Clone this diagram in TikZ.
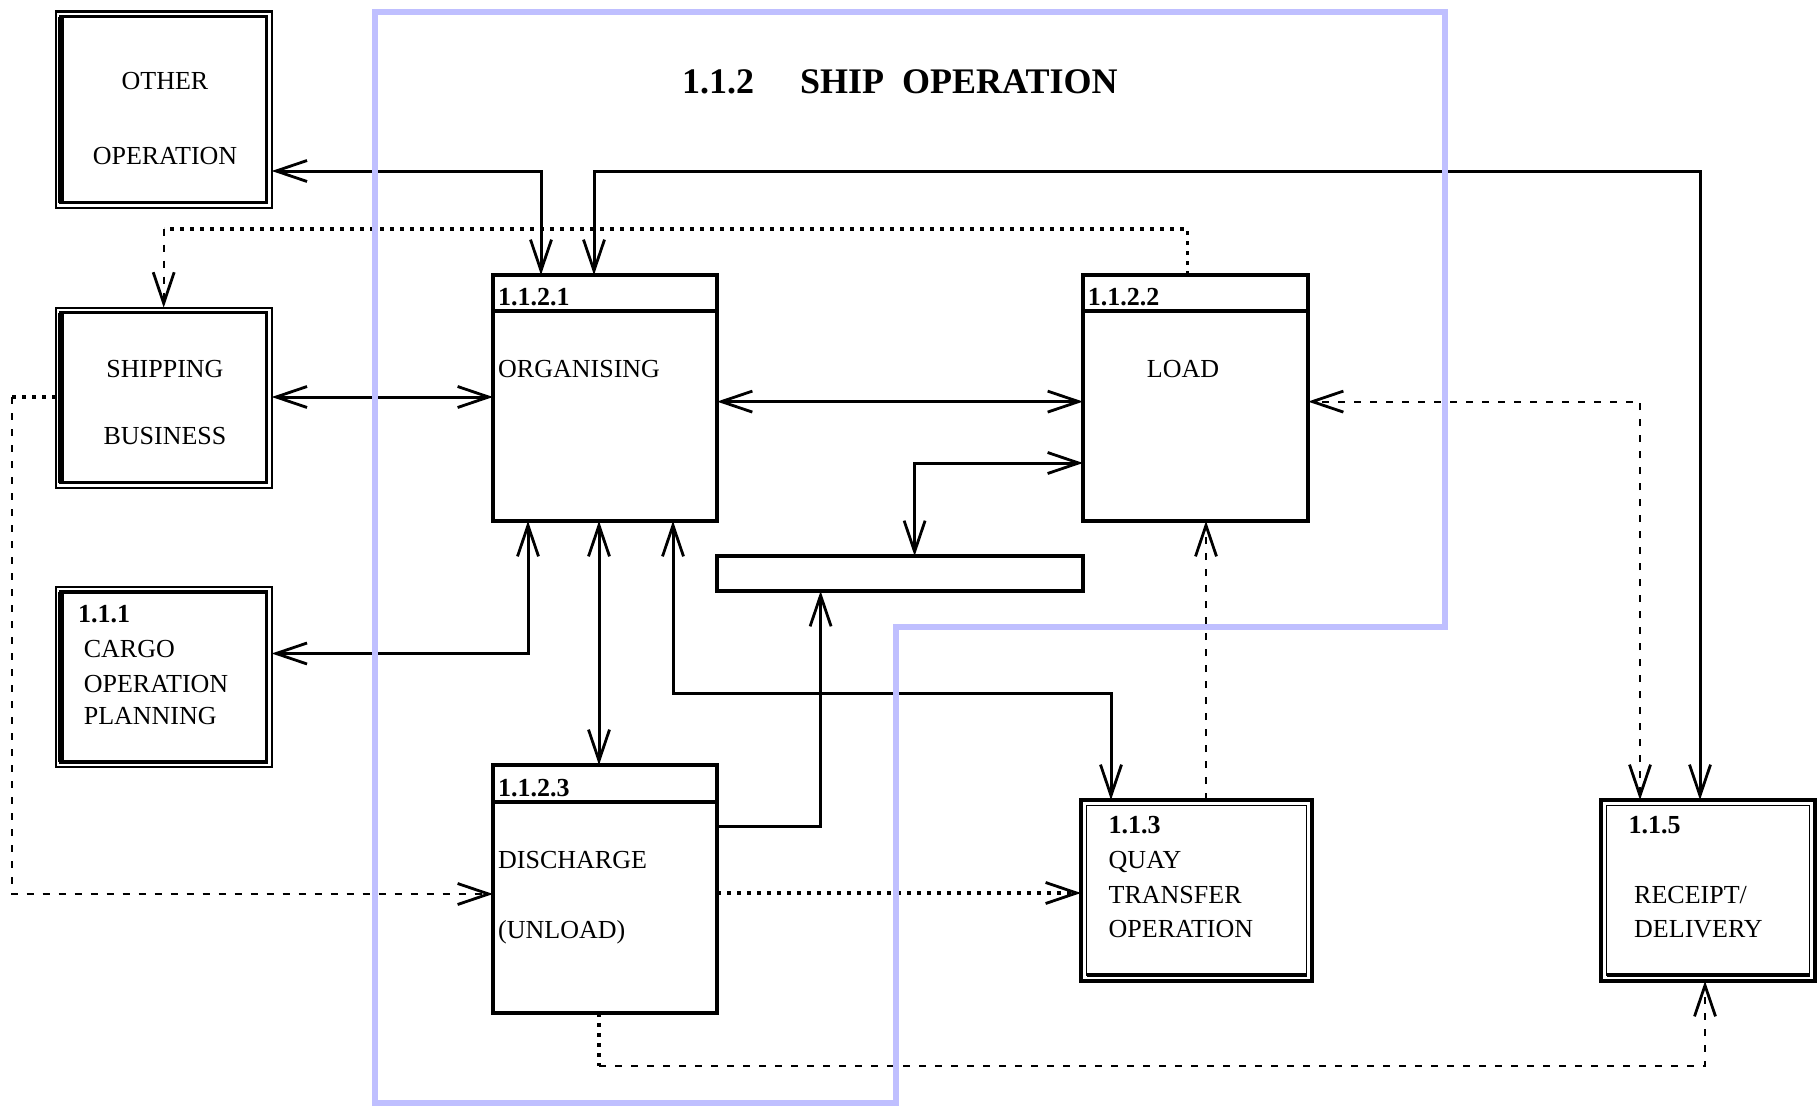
\documentclass[tikz,border=0pt]{standalone}
\usepackage{fontspec}
\setmainfont{Liberation Serif}
\usetikzlibrary{arrows.meta}
\definecolor{bluebd}{RGB}{191,191,255}
\newcommand\extboxL[1]{%
  \draw[line width=3.5pt] ([shift={(5,5)}]#1.north west) rectangle ([shift={(-5,-5)}]#1.south east);
  \draw[line width=6pt] ([shift={(5,5)}]#1.north west) -- ([shift={(5,-5)}]#1.south west);}
\newcommand\extboxR[1]{%
  \draw[line width=1.8pt] ([shift={(5.5,5.5)}]#1.north west) rectangle ([shift={(-5.5,-5.5)}]#1.south east);
  \draw[line width=4pt] ([shift={(5.5,-6)}]#1.south west) -- ([shift={(-5.5,-6)}]#1.south east);}
\begin{document}
\begin{tikzpicture}[x=1pt,y=-1pt,
  >={Straight Barb[length=31pt,width=21pt,line width=2.8pt]},
  proc/.style={draw, line width=4pt, rectangle, anchor=north west, inner sep=0pt, outer sep=0pt},
  extl/.style={draw, line width=2.2pt, rectangle, anchor=north west, inner sep=0pt, outer sep=0pt},
  extr/.style={draw, line width=4pt, rectangle, anchor=north west, inner sep=0pt, outer sep=0pt},
  store/.style={draw, line width=4.5pt, rectangle, anchor=north west, inner sep=0pt, outer sep=0pt},
  txt/.style={font=\fontsize{26}{30}\selectfont, inner sep=0pt, anchor=base west},
  txtc/.style={font=\fontsize{26}{30}\selectfont, inner sep=0pt, anchor=base},
  hdr/.style={font=\fontsize{26}{30}\selectfont\bfseries, inner sep=0pt, anchor=base west},
  conn/.style={line width=3pt},
  dsh/.style={line width=2pt, dash pattern=on 7pt off 9pt},
  dotl/.style={line width=3.8pt, dash pattern=on 4pt off 6pt},
  hline/.style={line width=3.2pt}
]
\useasboundingbox (0,0) rectangle (1820,1108);

% title
\node[font=\fontsize{36}{40}\selectfont\bfseries, inner sep=0pt, anchor=base west] (title) at (682,93) {1.1.2\hspace{46pt}SHIP\ \ OPERATION};

% external entities (left)
\node[extl, minimum width=216pt, minimum height=196pt] (oth) at (55.7,11.6) {};
\extboxL{oth}
\node[txtc] (othA) at (165,89.5) {OTHER};
\node[txtc] (othB) at (165,164) {OPERATION};

\node[extl, minimum width=216pt, minimum height=180pt] (shp) at (55.7,307.6) {};
\extboxL{shp}
\node[txtc] (shpA) at (165,377.5) {SHIPPING};
\node[txtc] (shpB) at (165,444.5) {BUSINESS};

\node[extl, minimum width=216pt, minimum height=180pt] (cop) at (55.7,587) {};
\extboxL{cop}
\node[hdr] (copN) at (77.8,622.5) {1.1.1};
\node[txt] (copA) at (83.6,657) {CARGO};
\node[txt] (copB) at (83.6,692) {OPERATION};
\node[txt] (copC) at (83.6,724.5) {PLANNING};

% processes
\node[proc, minimum width=224pt, minimum height=246pt] (org) at (493,275) {};
\draw[hline] (org.west |- 0,311) -- (org.east |- 0,311);
\node[hdr] (orgN) at (498,305.5) {1.1.2.1};
\node[txt] (orgA) at (498,377.5) {ORGANISING};

\node[proc, minimum width=225pt, minimum height=246pt] (lod) at (1083,275) {};
\draw[hline] (lod.west |- 0,311) -- (lod.east |- 0,311);
\node[hdr] (lodN) at (1087.6,305.5) {1.1.2.2};
\node[txtc] (lodA) at (1183,377.5) {LOAD};

\node[proc, minimum width=224pt, minimum height=248pt] (dis) at (493,765) {};
\draw[hline] (dis.west |- 0,802) -- (dis.east |- 0,802);
\node[hdr] (disN) at (498,796.5) {1.1.2.3};
\node[txt] (disA) at (498,868.5) {DISCHARGE};
\node[txt] (disB) at (498,938.5) {(UNLOAD)};

% data store
\node[store, minimum width=366pt, minimum height=35pt] (sto) at (717,556) {};

% external entities (right)
\node[extr, minimum width=231pt, minimum height=181pt] (qua) at (1081,800) {};
\extboxR{qua}
\node[hdr] (quaN) at (1108.5,833.5) {1.1.3};
\node[txt] (quaA) at (1108.5,868.5) {QUAY};
\node[txt] (quaB) at (1108.5,903.5) {TRANSFER};
\node[txt] (quaC) at (1108.5,937) {OPERATION};

\node[extr, minimum width=214pt, minimum height=181pt] (rec) at (1601,800) {};
\extboxR{rec}
\node[hdr] (recN) at (1628.5,833.5) {1.1.5};
\node[txt] (recA) at (1634,903.5) {RECEIPT/};
\node[txt] (recB) at (1634,937) {DELIVERY};

% coordinates
\coordinate (c2) at (1700,171);
\coordinate (c6) at (1111,693);
\coordinate (c12) at (11.6,397);
\coordinate (c14) at (599,1065.5);
\coordinate (c15) at (163.7,228.7);

% solid connectors
\draw[conn,<->] (oth.east |- 0,171) -| (org.north -| 541,0);
\draw[conn,<->] (org.north -| 594,0) |- (c2) -- (rec.north -| c2);
\draw[conn,<->] (shp.east |- 0,397) -- (org.west |- 0,397);
\draw[conn,<->] (org.south -| 528,0) |- (cop.east |- 0,653.5);
\draw[conn,<->] (org.south -| 599,0) -- (dis.north -| 599,0);
\draw[conn,<->] (org.south -| 673,0) |- (c6) -- (qua.north -| c6);
\draw[conn,<->] (org.east |- 0,401.6) -- (lod.west |- 0,401.6);
\draw[conn,<->] (sto.north -| 914.6,0) |- (lod.west |- 0,463);
\draw[conn,->] (dis.east |- 0,826.4) -| (sto.south -| 820.6,0);

% dashed / dotted connectors
\draw[dsh,->] (qua.north -| 1206,0) -- (lod.south -| 1206,0);
\draw[dsh,<->] (rec.north -| 1640,0) |- (lod.east |- 0,401.6);
\draw[dotl] (shp.west |- c12) -- (c12);
\draw[dsh,->] (c12) |- (dis.west |- 0,894);
\draw[dotl,->] (dis.east |- 0,893) -- (qua.west |- 0,893);
\draw[dotl] (dis.south -| c14) -- (c14);
\draw[dsh,->] (c14) -| (rec.south -| 1705,0);
\draw[dotl] (lod.north -| 1187.4,0) |- (c15);
\draw[dsh,->] (c15) -- (shp.north -| c15);

% ship operation boundary
\draw[line width=6pt, bluebd] (375,11.6) -- (1445,11.6) -- (1445,627) -- (896,627) -- (896,1103) -- (375,1103) -- cycle;
\end{tikzpicture}
\end{document}
